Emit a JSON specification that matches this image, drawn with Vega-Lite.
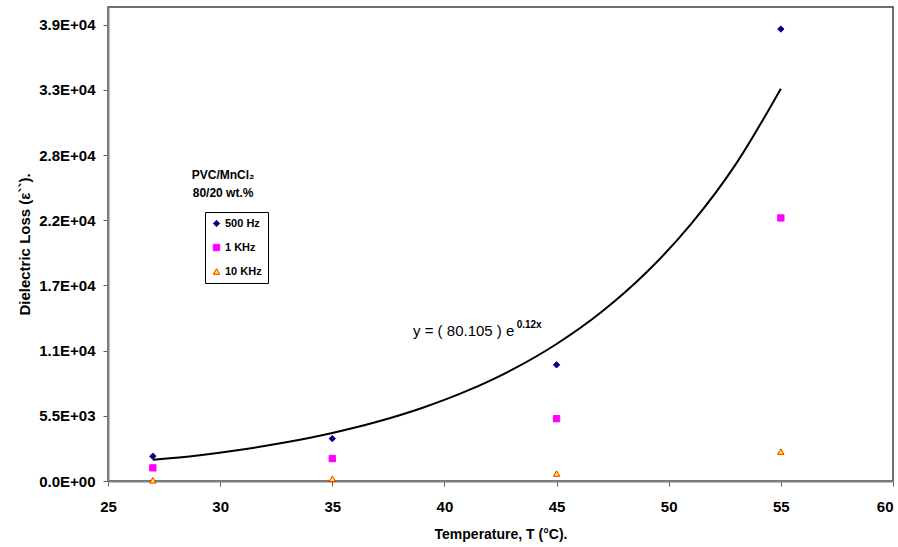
{
  "$schema": "https://vega.github.io/schema/vega-lite/v6.json",
  "width": 785,
  "height": 474,
  "autosize": {"type": "none"},
  "padding": {"left": 108, "top": 7, "right": 5, "bottom": 66},
  "background": "white",
  "config": {
    "view": {"stroke": "#404040", "strokeWidth": 1.5},
    "font": "Liberation Sans",
    "axis": {
      "grid": false,
      "domainColor": "#808080",
      "domainWidth": 2,
      "tickColor": "#606060",
      "tickWidth": 1,
      "tickSize": 5,
      "labelFlush": false,
      "labelFont": "Liberation Sans",
      "labelFontSize": 15,
      "labelFontWeight": "bold",
      "labelColor": "black",
      "titleFont": "Liberation Sans",
      "titleFontWeight": "bold",
      "titleColor": "black"
    }
  },
  "datasets": {
    "points": [
      {"T": 27, "loss": 2087, "series": "500 Hz"},
      {"T": 35, "loss": 3577, "series": "500 Hz"},
      {"T": 45, "loss": 9803, "series": "500 Hz"},
      {"T": 55, "loss": 38137, "series": "500 Hz"},
      {"T": 27, "loss": 1110, "series": "1 KHz"},
      {"T": 35, "loss": 1893, "series": "1 KHz"},
      {"T": 45, "loss": 5260, "series": "1 KHz"},
      {"T": 55, "loss": 22200, "series": "1 KHz"},
      {"T": 27, "loss": 60, "series": "10 KHz"},
      {"T": 35, "loss": 185, "series": "10 KHz"},
      {"T": 45, "loss": 630, "series": "10 KHz"},
      {"T": 55, "loss": 2482, "series": "10 KHz"}
    ],
    "curve": [
      {"T": 27, "fit": 1790},
      {"T": 29, "fit": 2158},
      {"T": 31, "fit": 2661},
      {"T": 33, "fit": 3283},
      {"T": 35, "fit": 4051},
      {"T": 37, "fit": 4996},
      {"T": 39, "fit": 6162},
      {"T": 41, "fit": 7600},
      {"T": 43, "fit": 9374},
      {"T": 45, "fit": 11564},
      {"T": 47, "fit": 14258},
      {"T": 49, "fit": 17590},
      {"T": 51, "fit": 21694},
      {"T": 53, "fit": 26760},
      {"T": 55, "fit": 33100}
    ],
    "legendTitle": [
      {"T": 30.13, "v": 25790, "label": "PVC/MnCl₂"},
      {"T": 30.13, "v": 24280, "label": "80/20 wt.%"}
    ],
    "eq": [
      {"T": 38.6, "v": 12665, "label": "y = ( 80.105 ) e"}
    ],
    "eqSup": [
      {"T": 43.22, "v": 13180, "label": "0.12x"}
    ]
  },
  "layer": [
    {
      "data": {"name": "curve"},
      "mark": {"type": "line", "color": "black", "strokeWidth": 2, "interpolate": "monotone"},
      "encoding": {
        "x": {
          "field": "T", "type": "quantitative",
          "scale": {"domain": [25, 60], "nice": false},
          "axis": {
            "values": [25, 30, 35, 40, 45, 50, 55, 60],
            "labelAlign": {"condition": {"test": "datum.value == 60", "value": "right"}, "value": "center"},
            "title": "Temperature, T (°C).",
            "titleFontSize": 14,
            "labelPadding": 13,
            "titlePadding": 13
          }
        },
        "y": {
          "field": "fit", "type": "quantitative",
          "scale": {"domain": [0, 40000], "nice": false},
          "axis": {
            "values": [0, 5500, 11000, 16500, 22000, 27500, 33000, 38500],
            "labelExpr": "datum.value == 0 ? '0.0E+00' : format(round(datum.value / pow(10, floor(log(datum.value)/LN10) - 1)) / 10, '.1f') + 'E+0' + floor(log(datum.value)/LN10)",
            "title": "Dielectric Loss (ε``).",
            "titleFontSize": 15,
            "labelPadding": 8,
            "titlePadding": 6
          }
        }
      }
    },
    {
      "data": {"name": "points"},
      "mark": {"type": "point", "filled": true, "strokeWidth": 1, "opacity": 1},
      "encoding": {
        "x": {"field": "T", "type": "quantitative"},
        "y": {"field": "loss", "type": "quantitative"},
        "shape": {
          "field": "series", "type": "nominal",
          "scale": {"domain": ["500 Hz", "1 KHz", "10 KHz"], "range": ["diamond", "square", "triangle-up"]},
          "legend": {"title": null, "orient": "none", "legendX": 97, "legendY": 205, "strokeColor": "black", "fillColor": "white", "padding": 6, "rowPadding": 12, "labelFontSize": 11, "labelFontWeight": "bold", "labelFont": "Liberation Sans", "labelColor": "black", "symbolSize": 40, "symbolStrokeWidth": 1, "labelOffset": 3}
        },
        "fill": {
          "field": "series", "type": "nominal",
          "scale": {"domain": ["500 Hz", "1 KHz", "10 KHz"], "range": ["#000080", "#FF00FF", "#FFFF00"]},
          "legend": {"title": null, "orient": "none", "legendX": 97, "legendY": 205, "strokeColor": "black", "fillColor": "white", "padding": 6, "rowPadding": 12, "labelFontSize": 11, "labelFontWeight": "bold", "labelFont": "Liberation Sans", "labelColor": "black", "symbolSize": 40, "symbolStrokeWidth": 1, "labelOffset": 3}
        },
        "stroke": {
          "field": "series", "type": "nominal",
          "scale": {"domain": ["500 Hz", "1 KHz", "10 KHz"], "range": ["#000080", "#FF00FF", "#FF2000"]},
          "legend": {"title": null, "orient": "none", "legendX": 97, "legendY": 205, "strokeColor": "black", "fillColor": "white", "padding": 6, "rowPadding": 12, "labelFontSize": 11, "labelFontWeight": "bold", "labelFont": "Liberation Sans", "labelColor": "black", "symbolSize": 40, "symbolStrokeWidth": 1, "labelOffset": 3}
        },
        "size": {"value": 40}
      }
    },
    {
      "data": {"name": "legendTitle"},
      "mark": {"type": "text", "font": "Liberation Sans", "fontSize": 12, "fontWeight": "bold", "align": "center", "baseline": "middle", "color": "black"},
      "encoding": {
        "x": {"field": "T", "type": "quantitative"},
        "y": {"field": "v", "type": "quantitative"},
        "text": {"field": "label"}
      }
    },
    {
      "data": {"name": "eq"},
      "mark": {"type": "text", "font": "Liberation Sans", "fontSize": 15, "align": "left", "baseline": "middle", "color": "black"},
      "encoding": {
        "x": {"field": "T", "type": "quantitative"},
        "y": {"field": "v", "type": "quantitative"},
        "text": {"field": "label"}
      }
    },
    {
      "data": {"name": "eqSup"},
      "mark": {"type": "text", "font": "Liberation Sans", "fontSize": 10, "fontWeight": "bold", "align": "left", "baseline": "middle", "color": "black"},
      "encoding": {
        "x": {"field": "T", "type": "quantitative"},
        "y": {"field": "v", "type": "quantitative"},
        "text": {"field": "label"}
      }
    }
  ]
}
